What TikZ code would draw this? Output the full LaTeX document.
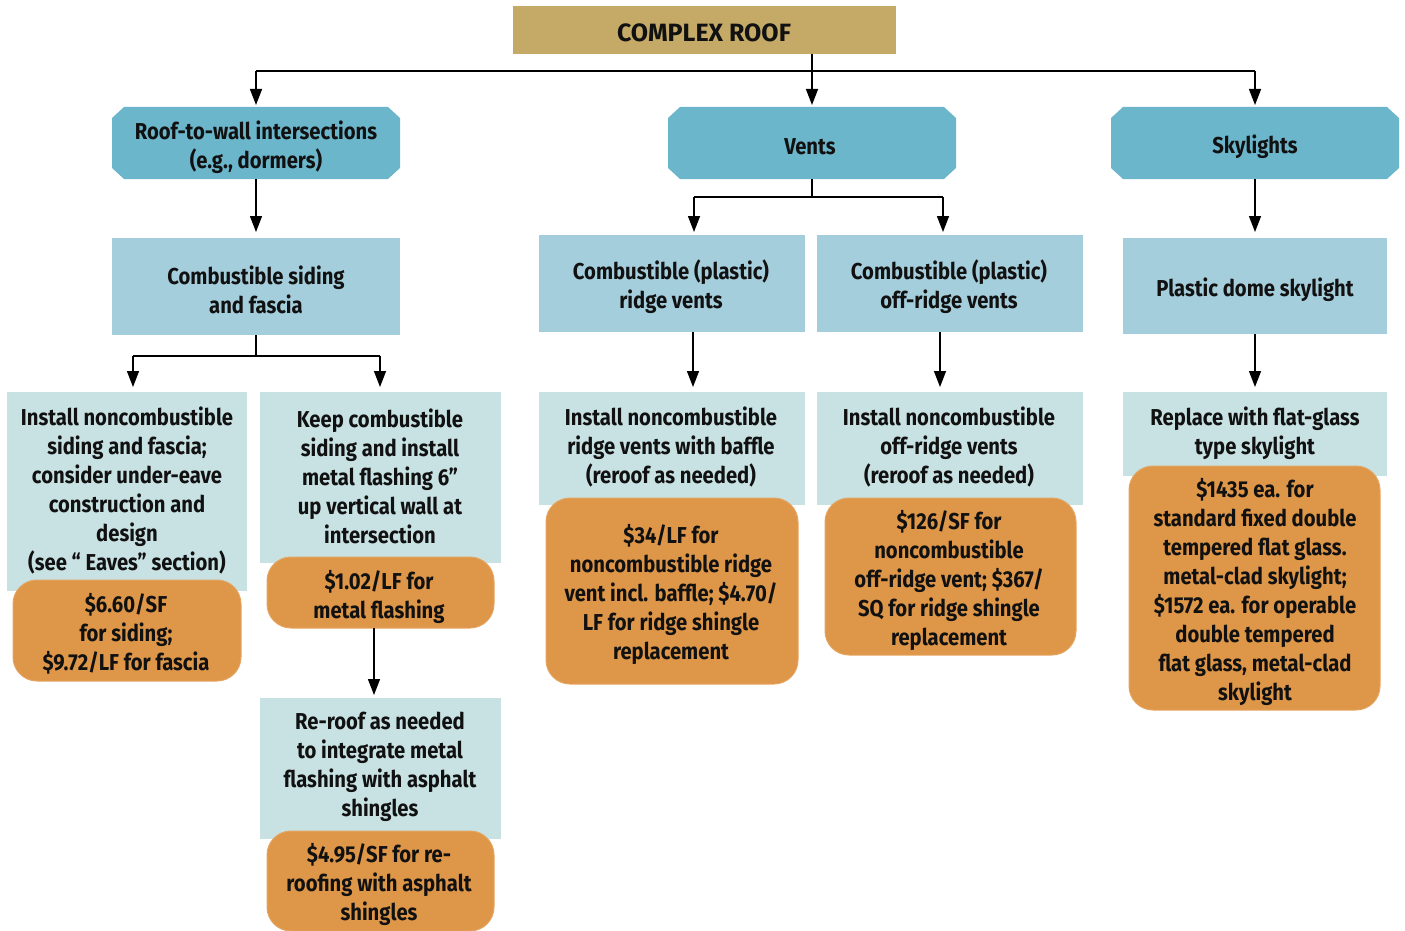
\documentclass[tikz,border=0pt]{standalone}
\usepackage{fontspec}
\setmainfont{Fira Sans}[FakeStretch=0.88]
\newfontfamily\titlefont{Fira Sans}
\usetikzlibrary{arrows.meta,calc}
\definecolor{gold}{HTML}{C4AA66}
\definecolor{tealone}{HTML}{6BB6CB}
\definecolor{bluetwo}{HTML}{A5CEDC}
\definecolor{palethree}{HTML}{C8E2E4}
\definecolor{orng}{HTML}{DE9648}
\definecolor{orngedge}{HTML}{E4A562}
\definecolor{ink}{HTML}{111111}
\begin{document}
\begin{tikzpicture}[x=1pt,y=-1pt,
  box/.style={inner sep=0pt, outer sep=0pt, anchor=north west},
  titlebox/.style={box, rectangle, fill=gold},
  lvlone/.style={box, rectangle},
  lvltwo/.style={box, rectangle, fill=bluetwo},
  lvlthree/.style={box, rectangle, fill=palethree},
  cost/.style={box, rectangle, rounded corners=24pt, fill=orng, draw=orngedge, line width=1pt},
  txt/.style={align=center, inner sep=0pt, text=ink, yshift=-2pt, font=\bfseries\fontsize{23}{29}\selectfont},
  conn/.style={line width=1.4pt, draw=black},
  arr/.style={conn, -{Triangle[width=12pt,length=16pt]}}
]
\useasboundingbox (0,0) rectangle (1405,931);

% boxes
\node[titlebox, minimum width=383pt, minimum height=48pt] (title) at (513,6) {};
\node[lvlone, minimum width=288pt, minimum height=72pt] (rw) at (112,107) {};
\node[lvlone, minimum width=288pt, minimum height=72pt] (vents) at (668,107) {};
\node[lvlone, minimum width=288pt, minimum height=72pt] (sky) at (1111,107) {};
\foreach \n in {rw,vents,sky}{
  \fill[tealone] ($(\n.north west)+(12,0)$) -- ($(\n.north east)+(-12,0)$)
    -- ($(\n.north east)+(0,11)$) -- ($(\n.south east)+(0,-11)$)
    -- ($(\n.south east)+(-12,0)$) -- ($(\n.south west)+(12,0)$)
    -- ($(\n.south west)+(0,-11)$) -- ($(\n.north west)+(0,11)$) -- cycle;
}
\node[lvltwo, minimum width=288pt, minimum height=97pt] (cs) at (112,238) {};
\node[lvltwo, minimum width=266pt, minimum height=97pt] (ridge) at (539,235) {};
\node[lvltwo, minimum width=266pt, minimum height=97pt] (offr) at (817,235) {};
\node[lvltwo, minimum width=264pt, minimum height=96pt] (dome) at (1123,238) {};
\node[lvlthree, minimum width=240pt, minimum height=199pt] (inst) at (7,392) {};
\node[lvlthree, minimum width=241pt, minimum height=171pt] (keep) at (260,392) {};
\node[lvlthree, minimum width=266pt, minimum height=113pt] (ridgei) at (539,392) {};
\node[lvlthree, minimum width=266pt, minimum height=113pt] (offi) at (817,392) {};
\node[lvlthree, minimum width=264pt, minimum height=84pt] (repl) at (1123,392) {};
\node[lvlthree, minimum width=241pt, minimum height=141pt] (reroof) at (260,698) {};
\node[cost, minimum width=228pt, minimum height=101pt] (cone) at (13,580) {};
\node[cost, minimum width=227pt, minimum height=71pt] (ctwo) at (267,557) {};
\node[cost, minimum width=227pt, minimum height=100pt] (cthree) at (267,831) {};
\node[cost, minimum width=252pt, minimum height=186pt] (cfour) at (546,498) {};
\node[cost, minimum width=251pt, minimum height=157pt] (cfive) at (825,498) {};
\node[cost, minimum width=251pt, minimum height=244pt] (csix) at (1129,466) {};

% texts
\node[txt, font=\titlefont\bfseries\fontsize{25}{30}\selectfont] (ttitle) at (704,31) {COMPLEX ROOF};
\node[txt] (trw) at (256,145) {Roof-to-wall intersections\\(e.g., dormers)};
\node[txt] (tvents) at (810,145) {Vents};
\node[txt] (tsky) at (1255,145) {Skylights};
\node[txt] (tcs) at (256,288) {Combustible siding\\and fascia};
\node[txt] (tridge) at (671,285) {Combustible (plastic)\\ridge vents};
\node[txt] (toffr) at (949,285) {Combustible (plastic)\\off-ridge vents};
\node[txt] (tdome) at (1255,288) {Plastic dome skylight};
\node[txt] (tinst) at (127,488) {Install noncombustible\\siding and fascia;\\consider under-eave\\construction and\\design\\(see “ Eaves” section)};
\node[txt] (tkeep) at (380,474) {Keep combustible\\siding and install\\metal flashing 6”\\up vertical wall at\\intersection};
\node[txt] (tridgei) at (671,445) {Install noncombustible\\ridge vents with baffle\\(reroof as needed)};
\node[txt] (toffi) at (949,445) {Install noncombustible\\off-ridge vents\\(reroof as needed)};
\node[txt] (trepl) at (1255,431) {Replace with flat-glass\\type skylight};
\node[txt] (treroof) at (380,765) {Re-roof as needed\\to integrate metal\\flashing with asphalt\\shingles};
\node[txt] (tcone) at (126,632) {\$6.60/SF\\for siding;\\\$9.72/LF for fascia};
\node[txt] (tctwo) at (379,595) {\$1.02/LF for\\metal flashing};
\node[txt] (tcthree) at (379,882) {\$4.95/SF for re-\\roofing with asphalt\\shingles};
\node[txt] (tcfour) at (671,593) {\$34/LF for\\noncombustible ridge\\vent incl. baffle; \$4.70/\\LF for ridge shingle\\replacement};
\node[txt] (tcfive) at (949,579) {\$126/SF for\\noncombustible\\off-ridge vent; \$367/\\SQ for ridge shingle\\replacement};
\node[txt] (tcsix) at (1255,590) {\$1435 ea. for\\standard fixed double\\tempered flat glass.\\metal-clad skylight;\\\$1572 ea. for operable\\double tempered\\flat glass, metal-clad\\skylight};

% connectors
\coordinate (bar) at (0,71);
\draw[arr, shorten >=2pt] (title.south -| vents.north) -- (vents.north);
\draw[conn] (rw.north |- bar) -- (sky.north |- bar);
\draw[arr, shorten >=2pt] (rw.north |- bar) -- (rw.north);
\draw[arr, shorten >=2pt] (sky.north |- bar) -- (sky.north);
\draw[arr, shorten >=6pt] (rw.south) -- (cs.north);
\draw[arr, shorten >=6pt] (sky.south) -- (dome.north);
\draw[arr, shorten >=5pt] (dome.south) -- (repl.north);

\coordinate (aone) at (133,356);
\coordinate (atwo) at (380,356);
\draw[conn] (cs.south) -- (cs.south |- aone);
\draw[conn] (aone) -- (atwo);
\draw[arr, shorten >=5pt] (aone) -- (aone |- inst.north);
\draw[arr, shorten >=5pt] (atwo) -- (atwo |- keep.north);

\coordinate (vone) at (694,197);
\coordinate (vtwo) at (943,197);
\draw[conn] (vents.south) -- (vents.south |- vone);
\draw[conn] (vone) -- (vtwo);
\draw[arr, shorten >=3pt] (vone) -- (vone |- ridge.north);
\draw[arr, shorten >=3pt] (vtwo) -- (vtwo |- offr.north);

\coordinate (rone) at (693,0);
\coordinate (rtwo) at (940,0);
\draw[arr, shorten >=5pt] (rone |- ridge.south) -- (rone |- ridgei.north);
\draw[arr, shorten >=5pt] (rtwo |- offr.south) -- (rtwo |- offi.north);

\coordinate (kone) at (374,0);
\draw[arr, shorten >=3pt] (kone |- ctwo.south) -- (kone |- reroof.north);
\end{tikzpicture}
\end{document}
